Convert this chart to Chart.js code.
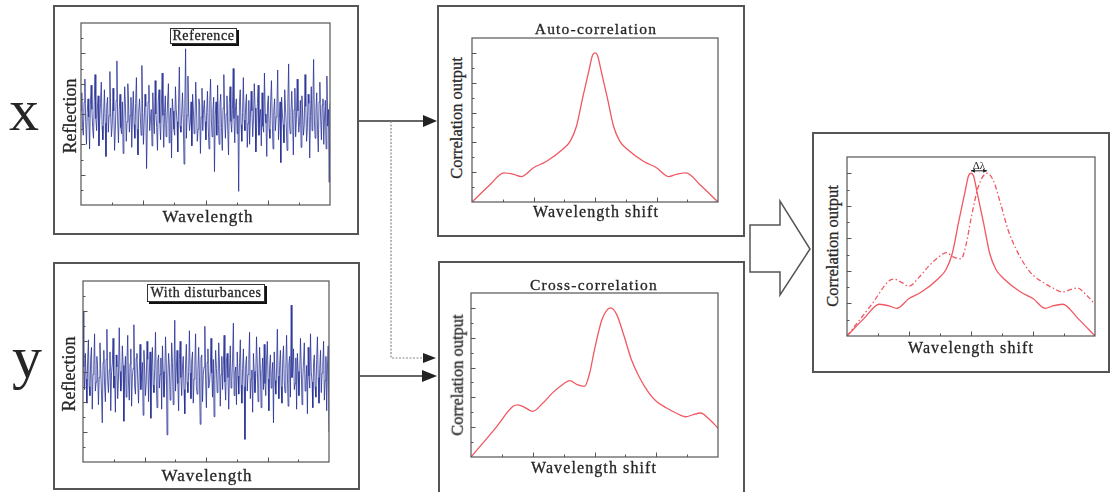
<!DOCTYPE html>
<html>
<head>
<meta charset="utf-8">
<script src="https://cdn.jsdelivr.net/npm/chart.js@4.4.0/dist/chart.umd.min.js"></script>
<style>
body{margin:0;width:1113px;height:492px;overflow:hidden;background:#fff;position:relative;
  font-family:"Liberation Serif","Times New Roman",serif;color:#262626}
.box{position:absolute;border:2px solid #555;box-sizing:border-box;background:#fff}
.plot{position:absolute}
.lbl{position:absolute;white-space:nowrap;transform:translate(-50%,-50%);line-height:1;-webkit-text-stroke:0.3px #262626}
.rot{transform:translate(-50%,-50%) rotate(-90deg)}
.big{position:absolute;font-size:60px;line-height:60px}
.tag{position:absolute;box-sizing:border-box;border:1px solid #333;background:#fff;box-shadow:2px 2px 0 #111;
  font-size:14px;letter-spacing:0.6px;text-align:center;-webkit-text-stroke:0.3px #262626}
svg{position:absolute;left:0;top:0}
</style>
</head>
<body>

<div class="big" style="left:9px;top:80px">x</div>
<div class="big" style="left:12px;top:327px">y</div>

<div class="box" style="left:53px;top:5px;width:306px;height:230px"></div>
<div class="box" style="left:53px;top:262px;width:307px;height:228px"></div>
<div class="box" style="left:437px;top:5px;width:308px;height:232px"></div>
<div class="box" style="left:438px;top:261px;width:307px;height:240px"></div>
<div class="box" style="left:812px;top:132px;width:298px;height:241px"></div>

<svg width="1113" height="492">
  <g stroke="#333" stroke-width="1.3" fill="none">
    <line x1="359" y1="121" x2="425" y2="121"/>
    <line x1="360" y1="376" x2="425" y2="376"/>
  </g>
  <polyline points="391,121 391,358 425,358" stroke="#888" stroke-width="1.2" stroke-dasharray="2,1.5" fill="none"/>
  <g fill="#222">
    <polygon points="423,115 437,121 423,127"/>
    <polygon points="423,353 436,358 423,363"/>
    <polygon points="422,370 437,376 422,382"/>
  </g>
  <polygon points="750,225 780,225 780,201 810,249 780,295 780,272 750,272" fill="#fff" stroke="#555" stroke-width="1.5"/>
</svg>

<div class="plot" style="left:77px;top:19px;width:257px;height:190px"><canvas id="refChart"></canvas></div>
<div class="plot" style="left:79px;top:277px;width:254px;height:189px"><canvas id="distChart"></canvas></div>
<div class="plot" style="left:468px;top:34px;width:254px;height:172px"><canvas id="autoChart"></canvas></div>
<div class="plot" style="left:467px;top:289px;width:255px;height:172px"><canvas id="crossChart"></canvas></div>
<div class="plot" style="left:843px;top:153px;width:256px;height:187px"><canvas id="combChart"></canvas></div>

<div class="tag" style="left:170px;top:28px;width:67px;height:16px;line-height:14px">Reference</div>
<div class="tag" style="left:147px;top:284px;width:118px;height:18px;line-height:16px">With disturbances</div>

<div class="lbl rot" style="left:70px;top:116px;font-size:18px">Reflection</div>
<div class="lbl" style="left:208px;top:216px;font-size:17px;letter-spacing:1px">Wavelength</div>
<div class="lbl rot" style="left:69px;top:374px;font-size:18px">Reflection</div>
<div class="lbl" style="left:207px;top:475px;font-size:17px;letter-spacing:1px">Wavelength</div>

<div class="lbl" style="left:596px;top:29px;font-size:15.5px;letter-spacing:1.2px">Auto-correlation</div>
<div class="lbl rot" style="left:457px;top:118px;font-size:16.5px">Correlation output</div>
<div class="lbl" style="left:596px;top:212px;font-size:16px;letter-spacing:1.1px">Wavelength shift</div>

<div class="lbl" style="left:594px;top:285px;font-size:15.5px;letter-spacing:1.2px">Cross-correlation</div>
<div class="lbl rot" style="left:458px;top:375px;font-size:16.5px">Correlation output</div>
<div class="lbl" style="left:594px;top:468px;font-size:16px;letter-spacing:1.1px">Wavelength shift</div>

<div class="lbl rot" style="left:833px;top:246px;font-size:16.5px">Correlation output</div>
<div class="lbl" style="left:971px;top:348px;font-size:16px;letter-spacing:1.1px">Wavelength shift</div>
<div class="lbl" style="left:979px;top:165px;font-size:11px;-webkit-text-stroke:0">Δλ</div>

<script>
// reflection spectra (arbitrary units)
const refValues = [
  6.2,7.4,5.1,4.6,6.8,8.3,5.5,4.0,6.1,7.0,5.8,3.7,6.6,7.9,6.3,5.0,4.4,6.9,8.6,5.7,
  4.9,6.4,7.2,3.9,5.6,6.7,8.1,5.2,4.3,6.0,7.6,5.4,3.2,6.5,7.1,4.8,5.9,8.8,6.1,4.5,
  5.3,7.7,6.2,3.6,5.0,6.9,9.5,5.6,4.1,6.3,7.3,5.1,4.7,6.8,3.4,5.7,7.8,6.4,4.2,5.5,
  8.0,6.6,4.8,5.9,7.1,3.8,6.0,7.5,5.3,4.4,6.7,8.4,5.0,3.3,6.2,7.0,5.8,4.6,9.2,6.1,
  4.0,5.6,7.3,6.5,2.4,5.2,6.8,7.9,4.9,5.7,6.3,3.9,7.4,5.5,4.7,8.2,6.0,5.1,3.6,6.9,
  7.6,5.4,4.3,6.6,8.7,5.9,3.8,6.1,7.2,4.5,5.3,6.9,8.0,4.1,5.8,6.4,3.1,7.0,6.2,5.0,
  4.6,7.8,6.3,5.5,3.5,6.7,9.1,5.2,4.8,6.0,7.4,5.7,2.7,6.5,10.3,4.4,5.9,8.5,6.1,4.9,
  5.4,6.8,3.9,7.3,6.2,4.7,5.6,8.1,6.4,4.2,5.0,7.0,6.6,3.4,5.8,7.7,4.9,6.3,6.9,5.5,
  4.3,6.1,7.5,5.2,3.7,6.9,8.3,5.6,4.5,6.2,7.1,2.2,5.9,6.8,4.6,7.9,5.3,4.0,6.6,7.3,
  5.1,3.6,6.4,8.6,5.8,4.4,6.0,7.2,5.0,3.3,6.7,7.8,5.5,4.8,6.3,9.0,5.7,4.1,6.5,7.0,
  4.7,5.9,0.9,6.8,7.6,5.3,4.2,6.1,8.4,5.6,4.9,6.6,7.3,3.8,5.4,6.9,4.0,5.8,7.5,6.2,
  4.5,5.7,8.0,6.4,3.5,5.1,6.7,7.9,4.6,5.9,6.3,3.9,7.4,5.2,4.8,8.7,6.0,5.4,3.2,6.6,
  7.2,5.0,4.4,6.9,8.2,5.6,3.7,6.2,7.0,4.9,5.8,6.5,8.9,4.3,5.5,6.8,2.8,7.1,6.0,5.3,
  4.1,7.6,6.4,5.2,3.6,6.7,9.3,5.4,4.7,6.1,7.5,5.9,3.3,6.3,7.7,4.5,5.7,8.3,6.2,4.8,
  5.5,6.9,3.8,7.2,6.0,4.6,5.3,8.6,6.5,4.2,5.1,7.3,6.7,3.1,5.9,7.8,4.9,6.4,9.6,5.6,
  4.4,6.2,7.4,5.0,3.5,6.8,8.1,5.7,4.3,6.6,7.0,4.0,5.8,6.9,3.7,8.5,5.2,6.3,1.5,6.7
];
const distValues = [
  10.0,6.3,4.8,7.2,5.5,3.9,6.7,8.1,5.0,4.4,6.9,7.6,3.5,5.8,6.4,8.5,4.7,5.3,7.0,6.1,
  3.8,5.6,7.9,6.2,4.5,2.6,6.6,7.4,5.1,4.0,6.8,8.8,5.4,4.6,6.1,7.3,3.4,5.9,6.5,8.2,
  4.9,5.7,3.3,7.1,6.3,4.2,5.5,8.9,6.0,4.7,5.2,7.7,6.4,2.7,5.8,7.0,4.3,6.7,8.4,5.3,
  4.1,6.5,7.5,3.7,5.6,6.2,9.1,5.0,4.5,6.9,7.2,5.4,3.9,6.0,7.8,4.8,5.7,6.6,3.1,7.4,
  6.1,4.4,5.3,8.0,6.8,4.0,5.9,7.3,2.9,6.4,7.6,5.1,4.6,6.2,8.6,5.5,3.6,6.7,7.1,4.9,
  5.8,6.9,3.5,7.7,6.0,4.3,5.4,8.3,6.5,1.8,5.6,7.2,6.3,4.1,5.0,7.9,6.6,3.8,5.7,9.4,
  4.7,6.1,7.4,5.2,3.4,6.8,8.0,5.6,4.4,6.3,7.0,4.8,3.2,6.5,7.8,5.3,4.6,6.0,8.7,5.9,
  4.2,6.7,7.3,3.9,5.5,6.4,8.5,5.0,4.5,6.1,7.6,5.7,2.5,6.9,7.1,4.0,5.8,6.3,9.0,5.4,
  3.6,6.6,7.5,4.9,5.2,6.0,8.2,5.9,4.3,6.8,3.0,5.5,7.4,6.2,4.6,5.1,7.9,6.5,3.7,5.8,
  7.0,4.8,6.4,8.4,5.3,4.1,6.7,7.2,5.6,3.5,6.1,7.7,4.9,5.4,6.9,9.2,4.4,5.9,6.3,3.8,
  7.3,5.7,4.5,6.6,8.1,5.1,3.9,6.2,7.5,5.0,1.5,6.4,7.0,4.7,5.8,6.8,8.6,4.2,5.5,6.1,
  3.3,7.2,6.0,4.6,5.6,8.3,6.5,4.0,5.3,7.6,6.2,3.6,5.9,6.9,4.8,7.8,5.2,4.4,6.7,8.0,
  5.5,3.4,6.3,7.1,4.9,5.8,6.6,2.6,7.3,5.4,4.5,6.1,8.8,5.7,4.2,6.4,7.4,5.0,3.9,6.8,
  7.7,5.3,4.6,6.2,8.4,5.9,3.7,6.5,7.0,4.3,10.4,5.6,6.1,7.5,4.8,5.2,6.9,3.5,7.2,6.0,
  4.4,5.8,8.2,6.3,3.8,5.5,6.7,7.9,4.7,5.1,6.4,3.2,7.6,5.7,4.9,8.5,6.0,5.3,3.6,6.6,
  7.1,5.0,4.3,6.8,8.3,5.6,3.9,6.2,7.4,4.6,5.9,6.5,8.0,4.1,5.4,7.0,3.4,6.3,7.7,2.0
];

// correlation outputs against wavelength shift
const autoShift = [-50,-43,-37,-33,-30,-25,-20,-13,-10,-7.5,-5,-2.5,-1,0,1,2.5,5,7.5,10,13,20,25,30,33,37,43,50];
const autoOut   = [0,1.1,1.95,1.85,1.7,2.3,2.7,3.55,4.1,5.1,7.0,8.8,9.85,10,9.85,8.8,7.0,5.1,4.1,3.55,2.7,2.3,1.7,1.85,1.95,1.1,0];
const crossShift = [-50,-40,-33,-31,-28,-25,-21,-17,-13,-10,-7,-4,-2,0,3,6.5,9,12,15,18,22,25,29,33,37,40,43,46,50];
const crossOut   = [0,1.95,3.4,3.5,3.3,3.06,3.6,4.3,4.85,5.12,4.85,4.74,5.6,7.2,9.2,10,9.55,8.1,6.5,5.4,4.3,3.74,3.3,2.95,2.7,2.85,2.95,2.6,1.95];

const blue = 'rgba(36,46,148,0.78)';
const red = 'rgb(240,88,98)';

const frameTicks = {
  id: 'frameTicks',
  afterDatasetsDraw(chart, args, opts) {
    const {ctx, chartArea: a, scales: {x, y}} = chart;
    ctx.save();
    ctx.strokeStyle = '#555';
    ctx.lineWidth = 1.2;
    ctx.strokeRect(a.left, a.top, a.right - a.left, a.bottom - a.top);
    ctx.lineWidth = 1;
    ctx.beginPath();
    for (let i = 1; i < opts.xSteps; i++) {
      const px = Math.round(x.getPixelForValue(x.min + (x.max - x.min) * i / opts.xSteps)) + 0.5;
      const len = i % 2 ? 2.5 : 4.5;
      ctx.moveTo(px, a.bottom);
      ctx.lineTo(px, a.bottom - len);
    }
    for (let k = 1; k * opts.yStep < y.max; k++) {
      const py = Math.round(y.getPixelForValue(k * opts.yStep)) + 0.5;
      const len = k % 2 ? 2.5 : 4.5;
      ctx.moveTo(a.left, py);
      ctx.lineTo(a.left + len, py);
    }
    ctx.stroke();
    ctx.restore();
  }
};

const deltaMark = {
  id: 'deltaMark',
  afterDatasetsDraw(chart, args, opts) {
    const {ctx, scales: {x, y}} = chart;
    const x1 = x.getPixelForValue(opts.from), x2 = x.getPixelForValue(opts.to);
    const py = y.getPixelForValue(opts.level);
    ctx.save();
    ctx.strokeStyle = '#222';
    ctx.fillStyle = '#222';
    ctx.lineWidth = 1;
    ctx.beginPath();
    ctx.moveTo(x1, py); ctx.lineTo(x2, py);
    ctx.stroke();
    ctx.beginPath();
    ctx.moveTo(x1, py); ctx.lineTo(x1 + 4, py - 2); ctx.lineTo(x1 + 4, py + 2); ctx.closePath();
    ctx.moveTo(x2, py); ctx.lineTo(x2 - 4, py - 2); ctx.lineTo(x2 - 4, py + 2); ctx.closePath();
    ctx.fill();
    ctx.restore();
  }
};

function pts(xs, ys) {
  return xs.map((v, i) => ({x: v, y: ys[i]}));
}

function baseOptions(xMin, xMax, yMax, yStep) {
  return {
    responsive: true,
    maintainAspectRatio: false,
    animation: false,
    layout: {padding: 4},
    elements: {point: {radius: 0}},
    plugins: {legend: {display: false}, tooltip: {enabled: false},
              frameTicks: {xSteps: 8, yStep: yStep}},
    scales: {
      x: {type: 'linear', display: false, min: xMin, max: xMax},
      y: {display: false, min: 0, max: yMax}
    }
  };
}

function noiseChart(id, values) {
  return new Chart(document.getElementById(id), {
    type: 'line',
    data: {datasets: [{data: values.map((v, i) => ({x: i, y: v})),
                       borderColor: blue, borderWidth: 1, tension: 0}]},
    options: baseOptions(0, values.length - 1, 12, 1),
    plugins: [frameTicks]
  });
}

function corrLine(xs, ys, dash) {
  return {data: pts(xs, ys), borderColor: red, borderWidth: 1.3,
          cubicInterpolationMode: 'monotone', borderDash: dash || []};
}

noiseChart('refChart', refValues);
noiseChart('distChart', distValues);

new Chart(document.getElementById('autoChart'), {
  type: 'line',
  data: {datasets: [corrLine(autoShift, autoOut)]},
  options: baseOptions(-50, 50, 11, 1),
  plugins: [frameTicks]
});

new Chart(document.getElementById('crossChart'), {
  type: 'line',
  data: {datasets: [corrLine(crossShift, crossOut)]},
  options: baseOptions(-50, 50, 11, 1),
  plugins: [frameTicks]
});

const peakAt = (xs, ys) => xs[ys.indexOf(Math.max(...ys))];
const combOpts = baseOptions(-50, 50, 11, 1);
combOpts.plugins.deltaMark = {from: peakAt(autoShift, autoOut), to: peakAt(crossShift, crossOut), level: 10.15};
new Chart(document.getElementById('combChart'), {
  type: 'line',
  data: {datasets: [corrLine(autoShift, autoOut), corrLine(crossShift, crossOut, [5, 2.5, 1.5, 2.5])]},
  options: combOpts,
  plugins: [frameTicks, deltaMark]
});
</script>
</body>
</html>
